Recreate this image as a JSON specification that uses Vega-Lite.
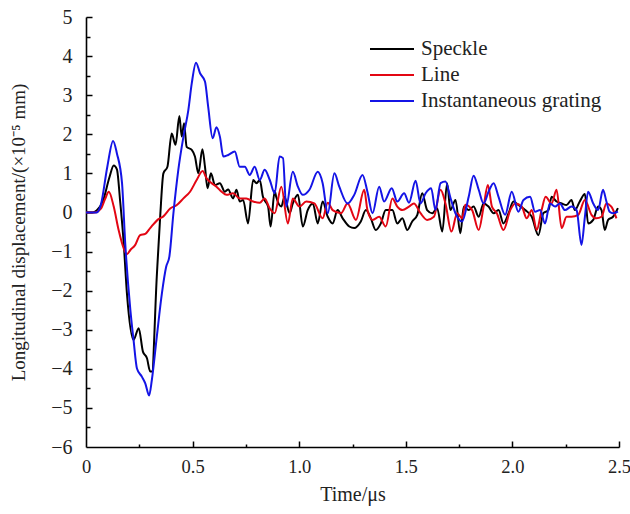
{
  "$schema": "https://vega.github.io/schema/vega-lite/v6.json",
  "autosize": "none",
  "width": 533,
  "height": 430,
  "padding": {"left": 86, "top": 17, "right": 11, "bottom": 67},
  "background": "white",
  "config": {
    "view": {"stroke": null},
    "font": "Liberation Serif, serif",
    "axis": {"grid": false, "domainColor": "black", "domainWidth": 1.6,
      "labelFont": "Liberation Serif, serif", "labelFontSize": 20, "labelColor": "#222", "titleFont": "Liberation Serif, serif",
      "titleFontSize": 20, "titleFontWeight": "normal", "titleColor": "#222", "labelOverlap": false}
  },
  "resolve": {"axis": {"x": "independent", "y": "independent"}},
  "datasets": {
    "sp": [
      [0,0],[0.03,0],[0.05,0.05],[0.08,0.3],[0.11,0.9],[0.13,1.2],[0.145,1.1],[0.16,0.3],[0.177,-0.79],[0.192,-2.07],[0.223,-3.26],[0.247,-2.96],[0.267,-3.56],[0.286,-3.73],[0.301,-4.07],[0.309,-4.07],[0.332,-1.64],[0.348,-0.1],[0.363,1.0],[0.382,1.17],[0.402,2.02],[0.42,1.73],[0.438,2.47],[0.449,1.94],[0.46,2.28],[0.472,1.68],[0.496,1.6],[0.511,1.43],[0.527,1.0],[0.546,1.62],[0.558,1.17],[0.57,0.62],[0.586,1.0],[0.605,0.7],[0.628,0.75],[0.651,0.53],[0.667,0.59],[0.69,0.36],[0.706,0.58],[0.721,0.28],[0.737,0.32],[0.76,-0.28],[0.784,0.83],[0.8,0.75],[0.815,0.83],[0.83,0.4],[0.854,0.15],[0.866,-0.36],[0.885,0.55],[0.892,0.4],[0.916,0.15],[0.931,0.4],[0.955,-0.02],[0.97,0.23],[0.994,0.45],[1.017,-0.36],[1.04,0.06],[1.064,0.23],[1.087,-0.28],[1.11,0.28],[1.134,-0.11],[1.157,-0.28],[1.18,0.06],[1.204,-0.15],[1.235,-0.36],[1.258,-0.4],[1.289,-0.23],[1.313,0.06],[1.336,-0.15],[1.359,-0.45],[1.383,-0.28],[1.406,0.06],[1.437,0.06],[1.46,-0.28],[1.484,-0.15],[1.507,-0.45],[1.53,-0.23],[1.554,-0.06],[1.577,0.49],[1.6,0.06],[1.624,-0.02],[1.647,0.11],[1.671,-0.49],[1.694,0.75],[1.709,0.06],[1.733,0.32],[1.756,-0.53],[1.772,0.15],[1.795,0.06],[1.818,0.15],[1.842,-0.11],[1.865,0.23],[1.888,0.15],[1.912,-0.02],[1.935,0.06],[1.958,-0.28],[1.982,-0.02],[2.005,0.28],[2.028,0.19],[2.06,0.06],[2.091,-0.11],[2.122,-0.58],[2.145,-0.02],[2.169,0.06],[2.184,0.4],[2.207,0.28],[2.231,0.23],[2.254,0.19],[2.277,0.32],[2.293,0.06],[2.316,0.28],[2.34,0.47],[2.355,-0.28],[2.379,-0.19],[2.402,0.15],[2.418,0.06],[2.433,-0.45],[2.449,-0.19],[2.472,-0.11],[2.495,0.11]
    ],
    "ln": [
      [0,0],[0.04,0],[0.07,0.1],[0.09,0.35],[0.107,0.53],[0.13,0.15],[0.153,-0.45],[0.177,-0.92],[0.192,-1.07],[0.208,-0.96],[0.231,-0.83],[0.254,-0.58],[0.278,-0.55],[0.301,-0.4],[0.34,-0.17],[0.363,-0.1],[0.395,0.1],[0.426,0.19],[0.457,0.36],[0.488,0.53],[0.519,0.83],[0.547,1.06],[0.566,0.87],[0.589,0.75],[0.612,0.66],[0.636,0.53],[0.659,0.45],[0.69,0.49],[0.721,0.36],[0.752,0.36],[0.784,0.28],[0.815,0.25],[0.838,0.36],[0.862,0.1],[0.885,-0.02],[0.916,0.66],[0.947,-0.28],[0.97,0.36],[1.001,0.15],[1.033,0.28],[1.071,0.23],[1.11,-0.15],[1.134,0.25],[1.157,0.06],[1.196,-0.02],[1.227,0.23],[1.266,-0.19],[1.305,0.58],[1.32,0.06],[1.344,-0.19],[1.375,-0.11],[1.406,-0.36],[1.437,0.36],[1.46,0.15],[1.484,0.06],[1.515,0.15],[1.538,0.23],[1.569,-0.02],[1.6,-0.19],[1.632,-0.11],[1.663,0.58],[1.686,0.23],[1.714,-0.49],[1.741,-0.02],[1.764,-0.15],[1.779,0.2],[1.811,0.06],[1.842,-0.45],[1.865,0.15],[1.885,0.7],[1.904,0.15],[1.927,-0.02],[1.958,-0.45],[1.99,0.06],[2.013,0.23],[2.044,0.15],[2.067,-0.15],[2.091,0.06],[2.114,-0.45],[2.137,0.06],[2.156,0.4],[2.184,0.23],[2.207,0.58],[2.231,-0.4],[2.254,-0.11],[2.277,-0.11],[2.309,-0.06],[2.34,0.32],[2.371,-0.06],[2.394,-0.15],[2.418,-0.11],[2.441,0.23],[2.464,0.15],[2.488,-0.15]
    ],
    "ig": [
      [0,0],[0.05,0],[0.07,0.2],[0.1,1.17],[0.127,1.83],[0.145,1.51],[0.169,0.75],[0.184,-0.79],[0.208,-2.49],[0.223,-3.26],[0.239,-3.99],[0.262,-4.2],[0.278,-4.37],[0.296,-4.68],[0.309,-4.28],[0.332,-3.18],[0.356,-2.07],[0.376,-1.39],[0.391,-1.13],[0.41,-0.02],[0.433,1.09],[0.457,1.94],[0.48,2.62],[0.496,3.3],[0.516,3.83],[0.535,3.56],[0.558,3.35],[0.573,2.71],[0.594,1.9],[0.612,2.18],[0.628,1.94],[0.644,1.43],[0.667,1.47],[0.698,1.56],[0.721,1.17],[0.745,1.17],[0.768,0.96],[0.791,1.17],[0.815,0.83],[0.838,1.09],[0.862,0.83],[0.885,0.49],[0.908,1.43],[0.924,1.39],[0.939,0.15],[0.97,1.04],[0.994,0.66],[1.017,0.45],[1.048,0.58],[1.087,1.04],[1.11,0.75],[1.134,-0.02],[1.165,1.0],[1.188,0.66],[1.227,0.23],[1.258,0.45],[1.297,0.96],[1.32,0.53],[1.344,-0.02],[1.375,0.66],[1.398,0.28],[1.434,0.62],[1.46,0.28],[1.492,0.49],[1.515,0.25],[1.546,0.81],[1.569,0.23],[1.593,0.49],[1.619,0.62],[1.639,0.06],[1.663,0.75],[1.686,0.79],[1.71,0.36],[1.733,-0.02],[1.764,-0.23],[1.795,0.4],[1.818,0.94],[1.842,0.58],[1.865,0.23],[1.888,0.53],[1.912,0.75],[1.935,0.4],[1.966,-0.06],[1.997,0.53],[2.028,0.02],[2.052,0.32],[2.083,0.4],[2.106,0.02],[2.13,0.06],[2.153,-0.28],[2.176,0.23],[2.2,0.15],[2.223,0.23],[2.246,0.06],[2.277,0.15],[2.301,0.06],[2.324,-0.83],[2.34,-0.11],[2.355,0.53],[2.379,0.23],[2.402,0.06],[2.425,0.58],[2.441,0.28],[2.456,0.02],[2.472,-0.02],[2.495,0.02]
    ]
  },
  "layer": [
    {
      "data": {"name": "sp"},
      "transform": [{"calculate": "'Speckle'", "as": "s"}, {"calculate": "datum[0]", "as": "t"}, {"calculate": "datum[1]", "as": "v"}],
      "mark": {"type": "line", "strokeWidth": 2, "interpolate": "monotone"},
      "encoding": {
        "x": {"field": "t", "type": "quantitative", "scale": {"domain": [0, 2.5], "nice": false},
          "axis": {"orient": "bottom", "title": "Time/μs", "values": [0,0.5,1,1.5,2,2.5], "format": ".1f",
            "labelExpr": "datum.value === 0 ? '0' : datum.label",
            "ticks": false, "labelFontSize": 18.5, "labelPadding": 10, "titlePadding": 9, "labelFlush": false}},
        "y": {"field": "v", "type": "quantitative", "scale": {"domain": [-6, 5], "nice": false},
          "axis": {"orient": "left", "title": "Longitudinal displacement/(×10⁻⁵ mm)", "titleFontSize": 19, "values": [-6,-5,-4,-3,-2,-1,0,1,2,3,4,5], "format": "d",
            "ticks": false, "labelPadding": 14, "titlePadding": 22, "labelFlush": false}},
        "color": {"field": "s", "type": "nominal", "scale": {"domain": ["Speckle", "Line", "Instantaneous grating"], "range": ["#000000", "#e30613", "#1414e6"]},
          "legend": {"title": null, "orient": "none", "legendX": 283, "legendY": 20, "symbolType": "M-1,0H3", "symbolSize": 484, "symbolStrokeWidth": 2,
            "labelFont": "Liberation Serif, serif", "labelFontSize": 21, "labelColor": "#222", "labelOffset": 28, "rowPadding": 4, "labelLimit": 400}}
      }
    },
    {
      "data": {"name": "ln"},
      "transform": [{"calculate": "'Line'", "as": "s"}, {"calculate": "datum[0]", "as": "t"}, {"calculate": "datum[1]", "as": "v"}],
      "mark": {"type": "line", "strokeWidth": 2, "interpolate": "monotone"},
      "encoding": {
        "x": {"field": "t", "type": "quantitative",
          "axis": {"orient": "bottom", "title": null, "values": [0.5,1,1.5,2,2.5], "domain": false, "labels": false, "ticks": true, "tickSize": 6, "offset": -6, "tickColor": "black", "tickWidth": 1.5, "tickOpacity": 1}},
        "y": {"field": "v", "type": "quantitative",
          "axis": {"orient": "left", "title": null, "values": [-5,-4,-3,-2,-1,0,1,2,3,4,5], "domain": false, "labels": false, "ticks": true, "tickSize": 6, "offset": -6, "tickColor": "black", "tickWidth": 1.5, "tickOpacity": 1}},
        "color": {"field": "s", "type": "nominal"}}
    },
    {
      "data": {"name": "ig"},
      "transform": [{"calculate": "'Instantaneous grating'", "as": "s"}, {"calculate": "datum[0]", "as": "t"}, {"calculate": "datum[1]", "as": "v"}],
      "mark": {"type": "line", "strokeWidth": 2, "interpolate": "monotone"},
      "encoding": {
        "x": {"field": "t", "type": "quantitative",
          "axis": {"orient": "bottom", "title": null, "values": [0.25,0.75,1.25,1.75,2.25], "domain": false, "labels": false, "ticks": true, "tickSize": 3, "offset": -3, "tickColor": "black", "tickWidth": 1.5, "tickOpacity": 1}},
        "y": {"field": "v", "type": "quantitative",
          "axis": {"orient": "left", "title": null, "values": [-5.5,-4.5,-3.5,-2.5,-1.5,-0.5,0.5,1.5,2.5,3.5,4.5], "domain": false, "labels": false, "ticks": true, "tickSize": 4, "offset": -4, "tickColor": "black", "tickWidth": 1.5, "tickOpacity": 1}},
        "color": {"field": "s", "type": "nominal"}}
    }
  ]
}
